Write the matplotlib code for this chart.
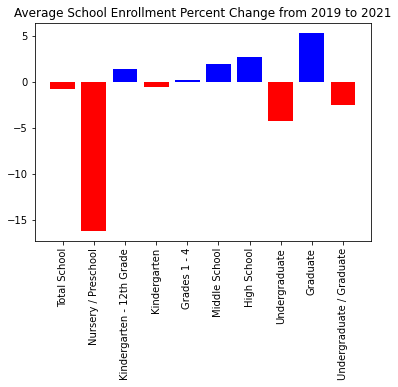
import matplotlib
matplotlib.use("Agg")
import matplotlib.pyplot as plt

categories = ["Total School", "Nursery / Preschool", "Kindergarten - 12th Grade",
              "Kindergarten", "Grades 1 - 4", "Middle School", "High School",
              "Undergraduate", "Graduate", "Undergraduate / Graduate"]
values = [-0.73, -16.25, 1.42, -0.51, 0.22, 1.97, 2.73, -4.23, 5.36, -2.48]

colors = ["blue" if v > 0 else "red" for v in values]

fig = plt.figure(figsize=(398/72, 387/72), dpi=72)
ax = fig.add_axes([35/398, 1-241/387, (370.7-35)/398, (241-23.3)/387])
ax.bar(categories, values, color=colors)
ax.set_title("Average School Enrollment Percent Change from 2019 to 2021", fontsize=12)
ax.tick_params(axis="x", rotation=90)
fig.savefig("out.png", dpi=72, facecolor="white")
